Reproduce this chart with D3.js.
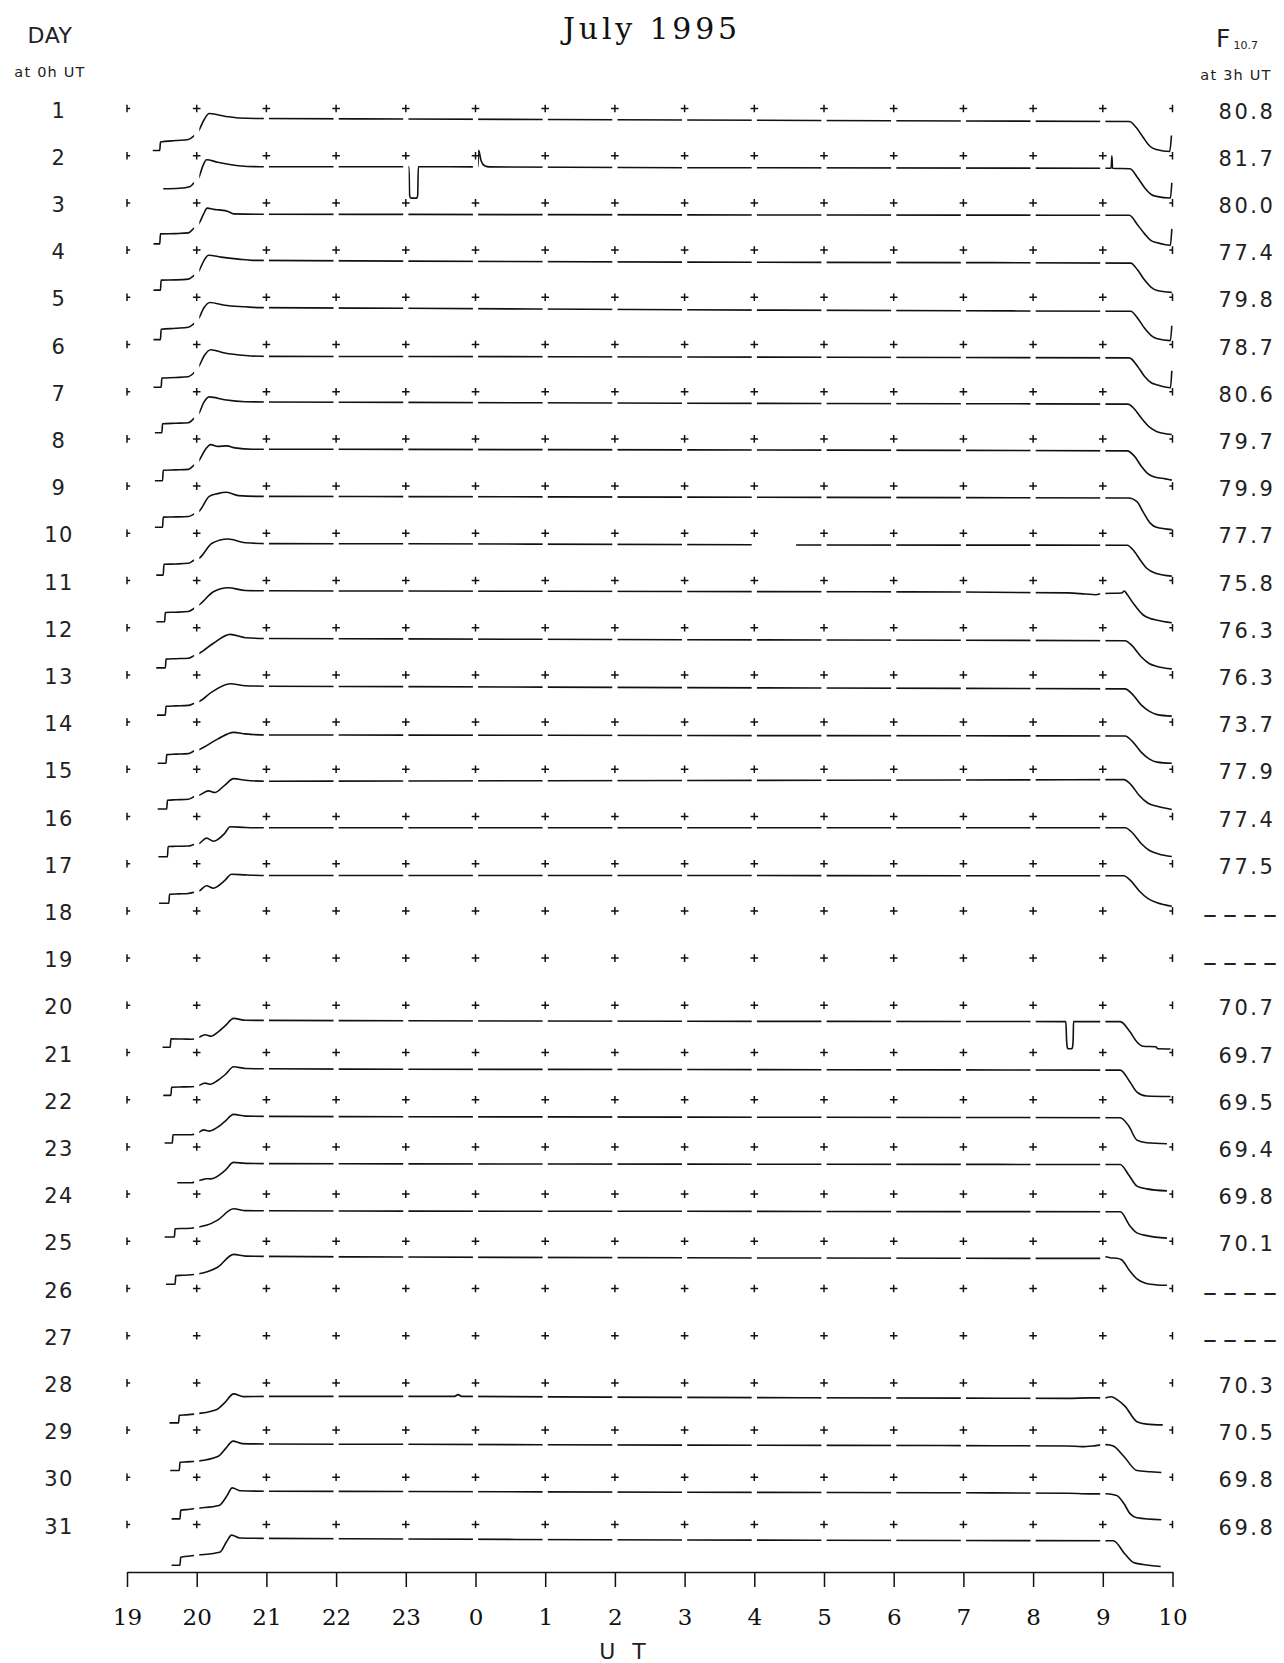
<!DOCTYPE html>
<html><head><meta charset="utf-8">
<script src="https://cdn.jsdelivr.net/npm/d3@7/dist/d3.min.js"></script>
<style>body{margin:0;background:#fff}svg{display:block}</style>
</head><body>
<svg id="c" width="1284" height="1663"></svg>
<script>
// ---------------- DATA ----------------
const title = "July 1995";
const days = d3.range(1, 32);
const f107 = [80.8, 81.7, 80.0, 77.4, 79.8, 78.7, 80.6, 79.7, 79.9, 77.7, 75.8, 76.3, 76.3, 73.7, 77.9, 77.4,
  77.5, null, null, 70.7, 69.7, 69.5, 69.4, 69.8, 70.1, null, null, 70.3, 70.5, 69.8, 69.8];
const hourTicks = [19, 20, 21, 22, 23, 0, 1, 2, 3, 4, 5, 6, 7, 8, 9, 10];
const hourTickLabels = ["19", "20", "21", "22", "23", "0", "1", "2", "3", "4", "5", "6", "7", "8", "9", "10"];

// each trace: [UT hour, relative level (0 = base, 44 = day line)]
const day01 = [[19.37,2],[19.47,2],[19.48,10.5],[19.7,12],[19.88,13],[19.95,16],[20.03,22],[20.1,32],[20.18,39],[20.3,37.8],[20.45,35.8],[20.6,34.5],[20.9,34],[23,33.5],[3,32.5],[7,31.5],[9.38,31],[9.48,25],[9.58,15],[9.68,6],[9.77,3],[9.96,1],[9.985,17]];
const day02 = [[19.52,11],[19.75,11.5],[19.9,13],[19.95,16],[20.03,22],[20.09,34],[20.14,40],[20.3,37.5],[20.6,34],[20.9,33],[23.045,33],[23.055,4],[23.07,1.6],[23.16,1.6],[23.17,4],[23.18,33],[23.99,32.8],[0.035,33],[0.045,49.5],[0.08,39],[0.13,34],[0.2,32.8],[3,32],[9.12,31.5],[9.13,44],[9.14,31.5],[9.39,31],[9.5,22],[9.6,12],[9.7,5],[9.77,3.3],[9.97,1.7],[9.99,17]];
const day03 = [[19.38,3],[19.47,3],[19.48,13],[19.7,13.3],[19.88,14],[19.95,18],[20.03,23],[20.1,33],[20.15,38.8],[20.25,37.5],[20.32,37],[20.45,35.5],[20.53,33],[20.9,32.7],[23,32.5],[3,32],[7,31.8],[9.38,31.6],[9.5,22],[9.6,13],[9.7,6],[9.77,4.3],[9.97,1.7],[9.99,18]];
const day04 = [[19.38,4],[19.48,4],[19.49,14],[19.7,14.2],[19.88,15],[19.95,18],[20.03,23],[20.1,33],[20.17,38.8],[20.35,37],[20.6,35],[20.8,33.7],[23,33],[3,32],[7,31.5],[9.4,31],[9.5,24],[9.6,14],[9.7,6.5],[9.77,3.8],[9.99,1.7]];
const day05 = [[19.38,1.7],[19.48,1.7],[19.49,12],[19.7,13],[19.88,14],[19.95,17],[20.03,23],[20.1,33],[20.19,38.8],[20.4,36],[20.7,34.5],[20.9,33.7],[23,33],[3,31.5],[7,30.5],[9.4,30],[9.5,23],[9.6,13],[9.7,5.5],[9.77,2.8],[9.97,0.7],[9.99,15.6]];
const day06 = [[19.38,1.2],[19.49,1.2],[19.5,10.5],[19.7,11],[19.88,11.8],[19.95,15],[20.03,22],[20.11,33],[20.2,38.8],[20.4,35.5],[20.7,33],[21,32.1],[23,32],[3,31.5],[7,31],[9.38,30.6],[9.5,22],[9.6,12],[9.7,5.5],[9.77,3.8],[9.97,0.7],[9.99,17.7]];
const day07 = [[19.4,3],[19.5,3],[19.51,12],[19.7,12.5],[19.88,13],[19.95,16.5],[20.03,22],[20.1,33],[20.18,38.8],[20.4,36],[20.7,34],[21,33.7],[23,33.3],[3,32.5],[7,32],[9.36,31.6],[9.45,27],[9.55,18],[9.68,8],[9.77,4.3],[9.99,1.2]];
const day08 = [[19.4,2.2],[19.51,2.2],[19.52,12.6],[19.7,13],[19.88,13.5],[19.95,17],[20.03,22],[20.12,33],[20.2,38.3],[20.3,36.5],[20.43,37],[20.55,35],[20.8,33.7],[23,33.5],[3,33],[7,32.5],[9.35,32],[9.45,27],[9.55,17],[9.65,9],[9.72,6.4],[9.9,4],[9.99,2.8]];
const day09 = [[19.4,2.8],[19.51,2.8],[19.52,13],[19.7,13.2],[19.88,13.6],[19.96,16],[20.04,19.3],[20.18,33.7],[20.3,36.5],[20.43,37.8],[20.6,34.5],[20.9,33.7],[23,33.5],[3,33],[7,32.5],[9.37,32.1],[9.49,28.5],[9.58,18],[9.68,7],[9.77,2.8],[9.99,0.5]];
const day10 = [[19.42,2.2],[19.52,2.2],[19.53,13],[19.7,13.3],[19.88,14],[19.96,17],[20.04,19.3],[20.22,34],[20.45,38.3],[20.7,34.5],[21,33.7],[23,33.5],[3.97,32.5],[4.3,null],[4.6,32.3],[7,32.2],[9.35,32.1],[9.45,26],[9.55,16],[9.63,9],[9.77,3.8],[9.99,1.2]];
const day11 = [[19.42,2.8],[19.54,2.8],[19.55,12],[19.7,12.3],[19.88,13],[19.96,16],[20.04,19.8],[20.24,32.7],[20.45,36.8],[20.7,34],[21,33.7],[23,33.5],[3,33],[7,32.5],[8.5,31.6],[8.75,30.5],[8.9,29.8],[9.0,31],[9.27,31.5],[9.31,33.5],[9.34,31],[9.45,20],[9.58,9.5],[9.68,6],[9.78,4.3],[9.99,1.7]];
const day12 = [[19.42,3.8],[19.55,3.8],[19.56,12.6],[19.7,13],[19.88,13.5],[19.96,16],[20.04,18.5],[20.24,28.5],[20.48,37.3],[20.7,34],[21,33.2],[23,32.8],[3,32],[7,31.5],[9.32,31],[9.42,26],[9.55,15],[9.67,8],[9.78,5.3],[9.99,2.8]];
const day13 = [[19.43,3.8],[19.55,3.8],[19.56,12.6],[19.7,13],[19.88,13.5],[19.96,15.5],[20.04,17.5],[20.22,27],[20.48,35.2],[20.7,33.2],[21,32.7],[23,32.3],[3,31.3],[7,30.5],[9.32,30],[9.42,25],[9.55,14],[9.67,7.5],[9.78,4.3],[9.99,2.8]];
const day14 = [[19.44,2.8],[19.56,2.8],[19.57,11.5],[19.7,12],[19.88,12.5],[19.96,15],[20.04,16.7],[20.3,27],[20.53,33.7],[20.7,32.2],[21,31.1],[23,31],[3,30.6],[7,30.3],[9.32,30.1],[9.42,25],[9.55,14],[9.67,7],[9.78,4],[9.99,2.8]];
const day15 = [[19.44,4.3],[19.57,4.3],[19.58,13.1],[19.7,13.5],[19.88,14],[19.96,16.5],[20.04,18.2],[20.17,22.4],[20.26,20.8],[20.4,28],[20.53,34.7],[20.7,33],[21,32.1],[23,32.3],[3,32.8],[7,33.3],[9.3,33.7],[9.4,29],[9.52,18],[9.65,10],[9.78,7],[9.99,3.8]];
const day16 = [[19.45,3.8],[19.58,3.8],[19.59,14],[19.7,14.2],[19.88,14.5],[19.96,16],[20.04,17.2],[20.14,22.4],[20.24,19.3],[20.4,27],[20.48,33.7],[20.7,33],[21,32.7],[23,32.7],[3,32.7],[7,32.7],[9.32,32.7],[9.42,28],[9.55,17],[9.67,10],[9.8,6.5],[9.99,4]];
const day17 = [[19.46,4.4],[19.6,4.4],[19.61,13.5],[19.75,13.8],[19.88,14.2],[19.96,15.5],[20.04,17],[20.14,22],[20.24,19.5],[20.4,27],[20.5,33.5],[20.7,32.8],[21,32.2],[23,32.2],[3,32.2],[7,32],[9.3,32],[9.4,27],[9.52,17],[9.65,9],[9.78,5],[9.99,1.5]];
const day20 = [[19.51,2],[19.62,2],[19.63,10.5],[19.8,10.3],[19.93,10.1],[20.01,11.3],[20.12,14.6],[20.21,13],[20.3,17],[20.41,23.6],[20.53,30.9],[20.7,29],[21,28.9],[23,28.5],[3,28],[7,27.8],[8.47,27.7],[8.48,10],[8.49,2],[8.5,0.5],[8.555,0.5],[8.565,2],[8.575,10],[8.58,27.7],[9.25,27.7],[9.39,17.5],[9.49,7.3],[9.58,3],[9.76,2.5],[9.79,0.5],[9.97,0.3]];
const day21 = [[19.52,1.1],[19.63,1.1],[19.64,9.3],[19.8,9.6],[19.93,9.8],[20.01,10.5],[20.12,13.4],[20.2,12.2],[20.3,16],[20.41,22],[20.53,29.7],[20.7,28],[21,27.7],[23,27.3],[3,27],[7,26.6],[9.25,26.4],[9.39,14.5],[9.49,4.4],[9.63,0.5],[9.97,0]];
const day22 = [[19.54,0.7],[19.65,0.7],[19.66,8.9],[19.8,9],[19.92,9],[20.01,10.5],[20.1,13.8],[20.18,12.6],[20.3,16.5],[20.4,22],[20.53,29.3],[20.7,27.6],[21,27.3],[23,27],[3,26.6],[7,26.2],[9.25,26],[9.37,17.9],[9.49,3.6],[9.63,1],[9.92,0]];
const day23 = [[19.72,8.1],[19.92,8.1],[20.01,10.1],[20.1,11.5],[20.14,12.2],[20.2,12],[20.4,20],[20.53,28.5],[20.7,27.5],[21,27.3],[23,27],[3,26.8],[7,26.5],[9.25,26.4],[9.37,16.2],[9.49,4.8],[9.63,2],[9.92,0]];
const day24 = [[19.54,1.1],[19.68,1.1],[19.69,9.3],[19.8,9.6],[19.92,9.8],[20.01,10.9],[20.15,13],[20.3,18],[20.53,29.3],[20.7,27.5],[21,27.3],[23,27],[3,26.8],[7,26.5],[9.25,26.4],[9.39,12.2],[9.49,5.2],[9.63,2.5],[9.92,0]];
const day25 = [[19.56,1.1],[19.69,1.1],[19.7,9.7],[19.8,10],[19.92,10.5],[20.01,11.3],[20.15,13.5],[20.3,18],[20.53,30.9],[20.7,29.2],[21,28.9],[23,28.3],[3,27.5],[7,27],[9.0,26.9],[9.05,28.5],[9.1,27.5],[9.2,27],[9.27,25.5],[9.38,15],[9.49,6.4],[9.68,1.1],[9.92,0]];
const day28 = [[19.61,4],[19.74,4],[19.75,11.5],[19.85,12],[19.92,12.5],[20.01,13.3],[20.29,17.5],[20.4,24],[20.53,33],[20.67,30.3],[21,30.5],[23,30.5],[23.7,30.5],[23.75,32.3],[23.8,30.5],[3,29.5],[7,28.8],[8.5,28.5],[8.8,29],[9.03,29],[9.12,30.2],[9.2,27.5],[9.32,20.5],[9.49,5.2],[9.63,2.8],[9.86,2]];
const day29 = [[19.62,3.6],[19.75,3.6],[19.76,11.8],[19.85,12.2],[19.92,12.5],[20.01,13],[20.31,17.9],[20.42,26],[20.52,33],[20.65,30.5],[21,30.1],[23,29.8],[3,29],[7,28.5],[8.5,28.1],[8.7,27.5],[8.9,28.5],[9.05,29.5],[9.15,28],[9.3,17.9],[9.49,3.6],[9.68,2.4],[9.84,1.6]];
const day30 = [[19.64,2.4],[19.76,2.4],[19.77,10.9],[19.9,12],[20.01,13],[20.32,15.8],[20.43,25],[20.51,33.4],[20.63,30.5],[21,30.1],[23,29.8],[3,29],[7,28.5],[8.5,28.1],[8.8,27.4],[9.05,27.5],[9.2,25.8],[9.3,18],[9.39,7.7],[9.49,3.6],[9.84,1.6]];
const day31 = [[19.64,3.2],[19.76,3.2],[19.77,11.3],[19.9,12.5],[20.01,13.4],[20.33,16.2],[20.43,27],[20.5,33.4],[20.62,30.5],[21,30.1],[23,29.5],[3,28.5],[7,28],[9.15,27.7],[9.32,14.2],[9.44,6],[9.58,4],[9.83,2]];

const traces = {1:day01,2:day02,3:day03,4:day04,5:day05,6:day06,7:day07,8:day08,9:day09,10:day10,
  11:day11,12:day12,13:day13,14:day14,15:day15,16:day16,17:day17,20:day20,21:day21,22:day22,
  23:day23,24:day24,25:day25,28:day28,29:day29,30:day30,31:day31};

// ---------------- DRAW ----------------
const svg = d3.select("#c");
svg.append("rect").attr("width",1284).attr("height",1663).attr("fill","#fff");

const toT = h => (h < 12 ? h + 24 : h);
const x = d3.scaleLinear().domain([19, 34]).range([127, 1172.5]);
const row = d3.scaleLinear().domain([1, 31]).range([108.5, 1524.5]);
const ink = "#111";

// title
svg.append("text").attr("x", 652).attr("y", 39).attr("text-anchor","middle")
  .attr("font-family","'DejaVu Serif', serif").attr("font-size",30).attr("letter-spacing",3.8)
  .attr("fill", ink).text(title);

// left header
svg.append("text").attr("x", 50).attr("y", 43).attr("text-anchor","middle")
  .attr("font-family","'DejaVu Sans', sans-serif").attr("font-size",22).attr("letter-spacing",0.5)
  .attr("fill","#222").text("DAY");
svg.append("text").attr("x", 50).attr("y", 77).attr("text-anchor","middle")
  .attr("font-family","'DejaVu Sans', sans-serif").attr("font-size",14.5).attr("letter-spacing",1.2)
  .attr("fill","#222").text("at 0h UT");

// right header
const fh = svg.append("text").attr("x", 1216).attr("y", 47)
  .attr("font-family","'DejaVu Sans', sans-serif").attr("fill","#222");
fh.append("tspan").attr("font-size",25).text("F");
fh.append("tspan").attr("font-size",11).attr("dx",3).attr("dy",2).text("10.7");
svg.append("text").attr("x", 1236).attr("y", 80).attr("text-anchor","middle")
  .attr("font-family","'DejaVu Sans', sans-serif").attr("font-size",14.5).attr("letter-spacing",1.2)
  .attr("fill","#222").text("at 3h UT");

// day labels
svg.append("g").selectAll("text").data(days).join("text")
  .attr("x", 59).attr("y", d => row(d) + 2).attr("text-anchor","middle")
  .attr("dominant-baseline","central")
  .attr("font-family","'DejaVu Sans', sans-serif").attr("font-size",21).attr("letter-spacing",1.5)
  .attr("fill","#222").text(d => d);

// F10.7 values
svg.append("g").selectAll("text").data(days).join("text")
  .attr("x", d => f107[d-1] == null ? 1243 : 1247).attr("y", d => row(d) + (f107[d-1] == null ? 4 : 3))
  .attr("text-anchor","middle").attr("dominant-baseline","central")
  .attr("font-family","'DejaVu Sans', sans-serif")
  .attr("font-size", d => f107[d-1] == null ? 28 : 21)
  .attr("letter-spacing", d => f107[d-1] == null ? 6 : 2.5)
  .attr("fill","#222")
  .text(d => f107[d-1] == null ? "––––" : f107[d-1].toFixed(1));

// grid markers (+)
const hoursAll = d3.range(19, 35);
const markers = [];
days.forEach(d => hoursAll.forEach(h => markers.push({d, h})));
svg.append("g").attr("stroke", ink).attr("stroke-width",1.5).attr("fill","none")
  .selectAll("path").data(markers).join("path")
  .attr("d", m => {
    const cx = x(m.h), cy = row(m.d), s = 3.8;
    if (m.h === 19) return `M${cx},${cy-s}V${cy+s}M${cx},${cy}H${cx+3.2}`;
    if (m.h === 34) return `M${cx-3.2},${cy}H${cx}M${cx},${cy-s}V${cy+s}`;
    return `M${cx-s},${cy}H${cx+s}M${cx},${cy-s}V${cy+s}`;
  });

// clip producing small breaks at each hour
const defs = svg.append("defs");
const clip = defs.append("clipPath").attr("id","hourgaps");
d3.range(19, 34).forEach(h => {
  const g = 2.6;
  const x0 = h === 19 ? x(19) - 20 : x(h) + g;
  const x1 = h === 33 ? x(34) + 20 : x(h + 1) - g;
  clip.append("rect").attr("x", x0).attr("y", 0).attr("width", x1 - x0).attr("height", 1663);
});

const tg = svg.append("g").attr("clip-path","url(#hourgaps)");
Object.keys(traces).forEach(k => {
  const d = +k;
  const yS = d3.scaleLinear().domain([0, 44]).range([row(d) + 44, row(d)]);
  const line = d3.line()
    .defined(p => p[1] != null)
    .x(p => x(toT(p[0])))
    .y(p => yS(p[1]))
    .curve(d3.curveMonotoneX);
  tg.append("path").attr("d", line(traces[k]))
    .attr("fill","none").attr("stroke", ink).attr("stroke-width",1.6)
    .attr("stroke-linejoin","round").attr("stroke-linecap","butt");
});

// bottom axis
const axis = d3.axisBottom(x)
  .tickValues(hoursAll)
  .tickFormat((h, i) => hourTickLabels[i])
  .tickSizeInner(15).tickSizeOuter(0).tickPadding(22);
const ag = svg.append("g").attr("transform","translate(0,1572)").call(axis);
ag.select(".domain").attr("stroke", ink).attr("stroke-width",1.6);
ag.selectAll(".tick line").attr("stroke", ink).attr("stroke-width",1.5);
ag.selectAll(".tick text").attr("font-family","'DejaVu Serif', serif").attr("font-size",23)
  .attr("fill", ink);

svg.append("text").attr("x", 625).attr("y", 1659).attr("text-anchor","middle")
  .attr("font-family","'DejaVu Sans', sans-serif").attr("font-size",22).attr("letter-spacing",5)
  .attr("fill","#222").text("U T");
</script>
</body></html>
